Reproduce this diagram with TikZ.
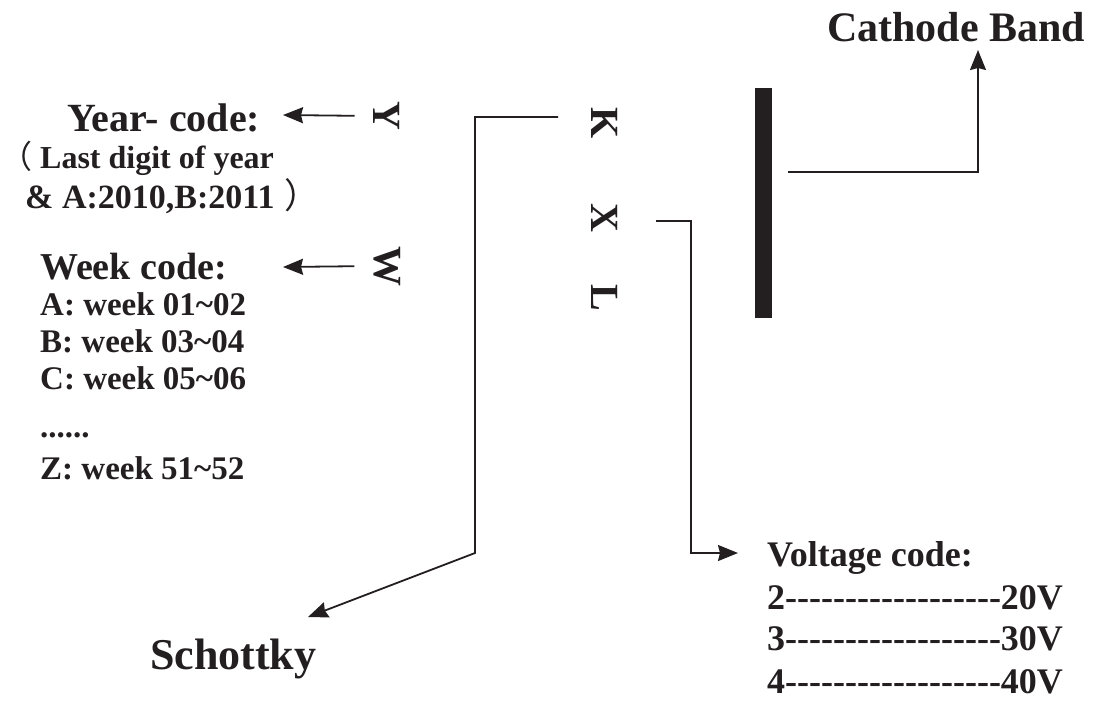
\documentclass[tikz,border=0pt]{standalone}
\usepackage{fontspec}
\setmainfont{Liberation Serif}
\newfontfamily\nolig{Liberation Serif}
\newfontfamily\cjk{Noto Sans CJK SC}
\usetikzlibrary{calc,arrows.meta}
\definecolor{ink}{RGB}{35,31,32}
\newcommand\fsz[1]{\fontsize{#1}{#1}\selectfont\bfseries}

\begin{document}
\begin{tikzpicture}[x=1pt,y=-1pt,
  txt/.style={anchor=base west,inner sep=0pt,text=ink},
  code/.style={inner sep=0pt,text=ink,rotate=-90,font=\fsz{40}},
  arr/.style={draw=ink,line width=1.8pt,-{Stealth[length=20pt,width=16pt,inset=2pt]}},
  wire/.style={draw=ink,line width=1.8pt}]
  \useasboundingbox (0,0) rectangle (1105,716);
  %\draw[thin,gray!40,step=50] (0,0) grid (1105,716);

  % the marking
  \node[code] (letY) at (387,116) {Y};
  \node[code] (letW) at (387,266) {W};
  \node[code] (letK) at (605,123) {K};
  \node[code] (letX) at (605,218) {X};
  \node[code] (letL) at (605,298) {L};
  \node[fill=ink,inner sep=0pt,minimum width=17,minimum height=230] (band) at (763.5,203) {};

  % year and week
  \node[txt,font=\fsz{40}] (yearcode) at (67,131) {Year- code:};
  \node[txt,font=\fsz{32}] (yearnote) at (0,168) {{\cjk\mdseries\fontsize{32}{32}\selectfont （}\hspace{8pt}Last digit of year};
  \node[txt,font=\fsz{34}] (yearab) at (25,208) {\& A:2010,B:2011\hspace{10pt}{\cjk\mdseries\fontsize{35}{35}\selectfont ）}};
  \node[txt,font=\fsz{38}] (weekcode) at (40,279) {Week code:};
  \node[txt,font=\fsz{33}] (weekA) at (40,315) {A: week 01\char`~02};
  \node[txt,font=\fsz{33}] (weekB) at (40,352) {B: week 03\char`~04};
  \node[txt,font=\fsz{33}] (weekC) at (40,389) {C: week 05\char`~06};
  \node[txt,font=\fsz{33}] (weekdots) at (40,437) {......};
  \node[txt,font=\fsz{33}] (weekZ) at (40,479) {Z: week 51\char`~52};

  % other labels
  \node[txt,font=\fsz{42}] (cathode) at (827,41) {Cathode Band};
  \node[txt,font=\fsz{44}] (schottky) at (150,669) {Schottky};
  \node[txt,font=\fsz{36}] (voltcode) at (767,566) {Voltage code:};
  \node[txt,font=\nolig\fsz{36}] (volt2) at (767,609) {2------------------20V};
  \node[txt,font=\nolig\fsz{36}] (volt3) at (767,650) {3------------------30V};
  \node[txt,font=\nolig\fsz{36}] (volt4) at (767,693) {4------------------40V};

  % corners and tips
  \coordinate (yeartip) at (283,115);
  \coordinate (weektip) at (283,267);
  \coordinate (kfrom) at (558,117);
  \coordinate (kbend) at (475,553);
  \coordinate (schotip) at (308,617);
  \coordinate (xfrom) at (656,221);
  \coordinate (xbend) at (691,553);
  \coordinate (volttip) at (738,553);
  \coordinate (bandfrom) at (788,172);
  \coordinate (bandtip) at (978,50);

  % connectors
  \draw[arr,shorten <=19pt] (letY.south) -- (yeartip);
  \draw[arr,shorten <=19pt] (letW.south) -- (weektip);
  \draw[arr] (kfrom) -| (kbend) -- (schotip);
  \draw[arr] (xfrom) -| (xbend) -- (volttip);
  \draw[arr] (bandfrom) -| (bandtip);
\end{tikzpicture}
\end{document}
